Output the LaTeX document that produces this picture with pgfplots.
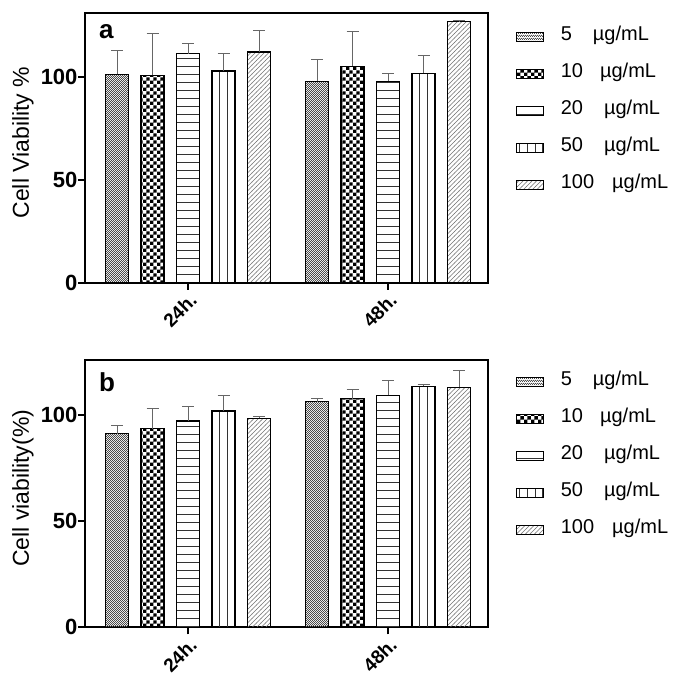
\documentclass[border=0pt]{standalone}
\usepackage{pgfplots}
\pgfplotsset{compat=1.18}
\usepackage{fontspec}
\setmainfont{Liberation Sans}
\usetikzlibrary{patterns}

\pgfdeclarepatternformonly{finecheck}{\pgfqpoint{0pt}{0pt}}{\pgfqpoint{2.4pt}{2.4pt}}{\pgfqpoint{2.4pt}{2.4pt}}{%
  \pgfpathrectangle{\pgfqpoint{0pt}{0pt}}{\pgfqpoint{1.2pt}{1.2pt}}%
  \pgfpathrectangle{\pgfqpoint{1.2pt}{1.2pt}}{\pgfqpoint{1.2pt}{1.2pt}}%
  \pgfusepath{fill}}
\pgfdeclarepatternformonly{coarsecheck}{\pgfqpoint{0pt}{0pt}}{\pgfqpoint{6.8pt}{6.8pt}}{\pgfqpoint{6.8pt}{6.8pt}}{%
  \pgfpathrectangle{\pgfqpoint{0pt}{0pt}}{\pgfqpoint{3.4pt}{3.4pt}}%
  \pgfpathrectangle{\pgfqpoint{3.4pt}{3.4pt}}{\pgfqpoint{3.4pt}{3.4pt}}%
  \pgfusepath{fill}}
\pgfdeclarepatternformonly{hlinesw}{\pgfqpoint{-0.5pt}{0pt}}{\pgfqpoint{8.5pt}{8pt}}{\pgfqpoint{8pt}{8pt}}{%
  \pgfpathrectangle{\pgfqpoint{-0.5pt}{3.5pt}}{\pgfqpoint{9pt}{1pt}}%
  \pgfusepath{fill}}
\pgfdeclarepatternformonly{vlinesw}{\pgfqpoint{0pt}{-0.5pt}}{\pgfqpoint{7.7pt}{8.2pt}}{\pgfqpoint{7.7pt}{7.7pt}}{%
  \pgfpathrectangle{\pgfqpoint{3.35pt}{-0.5pt}}{\pgfqpoint{1pt}{8.7pt}}%
  \pgfusepath{fill}}
\pgfdeclarepatternformonly{diagw}{\pgfqpoint{-1pt}{-1pt}}{\pgfqpoint{5.5pt}{5.5pt}}{\pgfqpoint{4.5pt}{4.5pt}}{%
  \pgfsetlinewidth{0.6pt}%
  \pgfpathmoveto{\pgfqpoint{-0.2pt}{-0.2pt}}%
  \pgfpathlineto{\pgfqpoint{4.7pt}{4.7pt}}%
  \pgfusepath{stroke}}

\pgfplotsset{
  myax/.style={
    scale only axis, width=403pt,
    xmin=-0.515, xmax=1.5, ymin=0,
    axis line style={line width=2.2pt},
    tick pos=left, tick align=outside,
    major tick length=7pt,
    every tick/.style={black, line width=2pt},
    xtick={0,1}, xticklabels={24h., 48h.},
    x tick label style={rotate=45, anchor=east, yshift=-9pt, xshift=2pt, font=\bfseries\fontsize{19}{19}\selectfont},
    ytick={0,50,100},
    y tick label style={xshift=3pt, font=\bfseries\fontsize{22}{22}\selectfont},
    /pgf/number format/assume math mode=true,
    ylabel style={font=\fontsize{23}{23}\selectfont, at={(axis description cs:-0.154,0.52)}, anchor=center},
    legend cell align=left,
    legend style={draw=none, fill=none, inner sep=0pt, outer sep=0pt,
      anchor=north west, row sep=21pt,
      font=\fontsize{20}{20}\selectfont,
      nodes={inner sep=0pt, text height=12pt, text depth=4pt},
      /tikz/every odd column/.append style={column sep=17pt}},
    legend image code/.code={\draw[##1, line width=0.8pt] (0pt,-4.5pt) rectangle (27pt,4.5pt);},
  },
  barsty/.style={ybar, bar width=0.115, bar shift=0pt, draw=black, line width=1.1pt,
    /pgfplots/error bars/y dir=plus, /pgfplots/error bars/y explicit,
    /pgfplots/error bars/error bar style={line width=1pt, draw=black!60},
    /pgfplots/error bars/error mark options={rotate=90, mark size=6pt, line width=1pt, draw=black!60}},
}

\begin{document}
\begin{tikzpicture}
\path[use as bounding box] (0,0) rectangle (687pt,-695pt);

% ---------- panel a ----------
\begin{axis}[myax, at={(85pt,-13.3pt)}, anchor=north west,
  height=269.4pt, ymax=130.8,
  ylabel={Cell Viability \%},
  legend style={at={(axis description cs:1.0695,0.942)}}]
\addplot[barsty, pattern=finecheck, pattern color=black!70] coordinates {(-0.355,101.1) +- (0,11.5) (0.645,97.9) +- (0,10.4)};
\addlegendentry{5\hspace{21pt}µg/mL}
\addplot[barsty, pattern=coarsecheck, pattern color=black] coordinates {(-0.1775,100.6) +- (0,20.4) (0.8225,105.0) +- (0,16.8)};
\addlegendentry{10\hspace{17pt}µg/mL}
\addplot[barsty, pattern=hlinesw, pattern color=black!80] coordinates {(0,111.2) +- (0,5.0) (1,97.9) +- (0,3.7)};
\addlegendentry{20\hspace{21pt}µg/mL}
\addplot[barsty, pattern=vlinesw, pattern color=black!80] coordinates {(0.1775,102.8) +- (0,8.7) (1.1775,101.6) +- (0,8.9)};
\addlegendentry{50\hspace{21pt}µg/mL}
\addplot[barsty, pattern=diagw, pattern color=black!55] coordinates {(0.355,112.0) +- (0,10.5) (1.355,126.9) +- (0,0.4)};
\addlegendentry{100\hspace{18pt}µg/mL}
\node[anchor=north west, inner sep=0pt, font=\bfseries\fontsize{26}{26}\selectfont] at (rel axis cs:0,1) [xshift=14pt, yshift=-11pt] {a};
\end{axis}

% ---------- panel b ----------
\begin{axis}[myax, at={(85pt,-360pt)}, anchor=north west,
  height=267.3pt, ymax=125.7,
  ylabel={Cell viability(\%)},
  legend style={at={(axis description cs:1.0695,0.948)}}]
\addplot[barsty, pattern=finecheck, pattern color=black!70] coordinates {(-0.355,91.1) +- (0,3.7) (0.645,106.0) +- (0,1.4)};
\addlegendentry{5\hspace{21pt}µg/mL}
\addplot[barsty, pattern=coarsecheck, pattern color=black] coordinates {(-0.1775,93.3) +- (0,9.7) (0.8225,107.5) +- (0,4.1)};
\addlegendentry{10\hspace{17pt}µg/mL}
\addplot[barsty, pattern=hlinesw, pattern color=black!80] coordinates {(0,97.0) +- (0,6.9) (1,109.1) +- (0,7.0)};
\addlegendentry{20\hspace{21pt}µg/mL}
\addplot[barsty, pattern=vlinesw, pattern color=black!80] coordinates {(0.1775,101.7) +- (0,7.1) (1.1775,113.3) +- (0,1.1)};
\addlegendentry{50\hspace{21pt}µg/mL}
\addplot[barsty, pattern=diagw, pattern color=black!55] coordinates {(0.355,98.3) +- (0,0.9) (1.355,112.9) +- (0,7.8)};
\addlegendentry{100\hspace{18pt}µg/mL}
\node[anchor=north west, inner sep=0pt, font=\bfseries\fontsize{26}{26}\selectfont] at (rel axis cs:0,1) [xshift=14pt, yshift=-12pt] {b};
\end{axis}
\end{tikzpicture}
\end{document}
